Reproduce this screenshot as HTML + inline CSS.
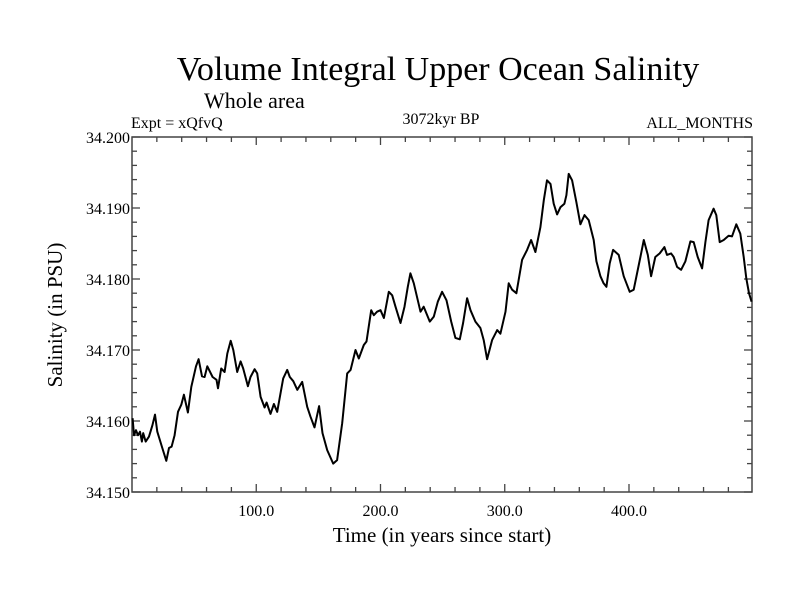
<!DOCTYPE html>
<html><head><meta charset="utf-8"><style>
body{margin:0;background:#fff}
svg text{font-family:"Liberation Serif",serif;fill:#000}
</style></head><body>
<svg width="800" height="600" id="c">
<text x="438" y="80" font-size="34" text-anchor="middle">Volume Integral Upper Ocean Salinity</text>
<text x="204" y="108" font-size="22">Whole area</text>
<text x="131" y="128" font-size="16">Expt = xQfvQ</text>
<text x="441" y="124" font-size="16" text-anchor="middle">3072kyr BP</text>
<text x="753" y="128" font-size="16" text-anchor="end">ALL_MONTHS</text>
<text transform="translate(62,315) rotate(-90)" font-size="21" text-anchor="middle">Salinity (in PSU)</text>
<text x="442" y="542" font-size="21" text-anchor="middle">Time (in years since start)</text>
<g id="axes"></g>
<path id="line" fill="none" stroke="#000" stroke-width="2" stroke-linejoin="round"/>
</svg>
<script>
const years=[0.5,1.6,3.2,4.8,6.4,8,9,11,13.7,16.4,18.5,20.4,24.4,27.6,29.8,31.9,34.3,37,39.7,41.8,45,47.7,51.5,53.6,56.3,58.4,60.6,64.9,68,69.2,71.8,74.5,76.7,79.4,81.5,84.7,87.4,89.5,93.3,95.4,98.7,100.8,103.5,106.7,108.3,111.5,114.2,116.9,121.7,124.9,127,129.8,133,137,141,143.7,146.9,150.6,153.3,157.1,161.9,165.1,169.2,173.2,175.9,179.9,182.5,186.6,188.7,192.5,194.6,197.3,200,202.7,206.7,209.4,212.1,216.1,219.3,222,224.1,226.8,230,232.2,234.8,239.7,242.9,246.1,249.6,253.1,256.9,260.3,263.8,266.5,269.7,272.4,276.4,280.4,283.1,285.8,289.8,293.9,296.5,300.6,303.2,305.9,309.4,314,318,321.2,324.7,328.7,331.4,334,336.8,339.4,342.1,344.8,348,349.6,351.5,354.2,357.7,360.9,364.2,367.6,371.6,373.8,377,379.6,381.8,384.5,387.2,391.7,395.7,400.6,403.8,409.2,411.9,415.1,417.8,421.2,424.7,428.5,430.6,433.9,436,438.7,441.9,445.4,449.4,452.1,455.3,458.8,461.5,464.1,468.1,470.3,473,476.2,480.2,482.9,486.4,489.6,492.3,494.4,496.6,498.7];
const salinity=[34.1604,34.158,34.1587,34.158,34.1585,34.1571,34.1583,34.1571,34.1578,34.1594,34.1609,34.1585,34.1562,34.1544,34.1562,34.1564,34.158,34.1613,34.1623,34.1637,34.1612,34.1648,34.1677,34.1687,34.1663,34.1662,34.1677,34.1662,34.1658,34.1646,34.1674,34.1669,34.1695,34.1713,34.17,34.1669,34.1684,34.1674,34.1649,34.1662,34.1673,34.1667,34.1634,34.1619,34.1626,34.161,34.1624,34.1613,34.166,34.1672,34.1662,34.1656,34.1644,34.1655,34.162,34.1606,34.1591,34.1621,34.1583,34.1559,34.154,34.1545,34.1597,34.1667,34.1672,34.17,34.1688,34.1707,34.1712,34.1756,34.1749,34.1754,34.1756,34.1745,34.1782,34.1777,34.1761,34.1738,34.1761,34.1789,34.1808,34.1794,34.177,34.1754,34.1761,34.174,34.1747,34.1768,34.1782,34.177,34.174,34.1717,34.1715,34.1738,34.1773,34.1756,34.174,34.1731,34.1714,34.1687,34.1714,34.1728,34.1723,34.1754,34.1794,34.1785,34.178,34.1827,34.1841,34.1855,34.1838,34.1873,34.1911,34.1939,34.1934,34.1906,34.1891,34.1901,34.1906,34.1918,34.1948,34.1939,34.1908,34.1877,34.189,34.1883,34.1855,34.1825,34.1804,34.1794,34.1789,34.1822,34.1841,34.1834,34.1804,34.1782,34.1785,34.1831,34.1855,34.1834,34.1804,34.1831,34.1836,34.1845,34.1834,34.1836,34.1831,34.1817,34.1813,34.1825,34.1853,34.1852,34.1831,34.1815,34.1852,34.1883,34.1899,34.189,34.1852,34.1855,34.1861,34.186,34.1877,34.1864,34.1831,34.1801,34.178,34.1768];
const xTicks=[100,200,300,400];
const xTickLabels=["100.0","200.0","300.0","400.0"];
const yTicks=[34.15,34.16,34.17,34.18,34.19,34.2];
const yTickLabels=["34.150","34.160","34.170","34.180","34.190","34.200"];
const L=132,R=752,T=137,B=492,X0=0,X1=499,Y0=34.15,Y1=34.2;
const sx=v=>L+(v-X0)/(X1-X0)*(R-L);
const sy=v=>B-(v-Y0)/(Y1-Y0)*(B-T);
const NS='http://www.w3.org/2000/svg';
const g=document.getElementById('axes');
function ln(x1,y1,x2,y2,name){const e=document.createElementNS(NS,'line');
e.setAttribute('x1',x1);e.setAttribute('y1',y1);e.setAttribute('x2',x2);e.setAttribute('y2',y2);
e.setAttribute('stroke','#444');e.setAttribute('stroke-width','1.3');


g.appendChild(e);}
function tx(x,y,s,anchor,name){const e=document.createElementNS(NS,'text');
e.setAttribute('x',x);e.setAttribute('y',y);e.setAttribute('font-size','16');e.setAttribute('text-anchor',anchor);e.textContent=s;


g.appendChild(e);}
const fr=document.createElementNS(NS,'rect');
fr.setAttribute('x',L);fr.setAttribute('y',T);fr.setAttribute('width',R-L);fr.setAttribute('height',B-T);
fr.setAttribute('fill','none');fr.setAttribute('stroke','#444');fr.setAttribute('stroke-width','1.5');


g.appendChild(fr);
for(let v=20;v<500;v+=20){const x=sx(v);const major=v%100===0;const len=major?8:5;
ln(x,B,x,B-len,'x-tick');ln(x,T,x,T+len,'x-tick-top');}
for(let i=0;i<=25;i++){const v=Y0+i*0.002;const y=sy(v);const major=i%5===0;const len=major?8:5;
ln(L,y,L+len,y,'y-tick');ln(R,y,R-len,y,'y-tick-right');}
xTicks.forEach((v,i)=>tx(sx(v),B+24,xTickLabels[i],'middle','x-tick-label'));
yTicks.forEach((v,i)=>tx(L-2,sy(v)+6,yTickLabels[i],'end','y-tick-label'));
document.getElementById('line').setAttribute('d',years.map((y,i)=>(i?'L':'M')+sx(y).toFixed(1)+' '+sy(salinity[i]).toFixed(1)).join(' '));
</script>
</body></html>
